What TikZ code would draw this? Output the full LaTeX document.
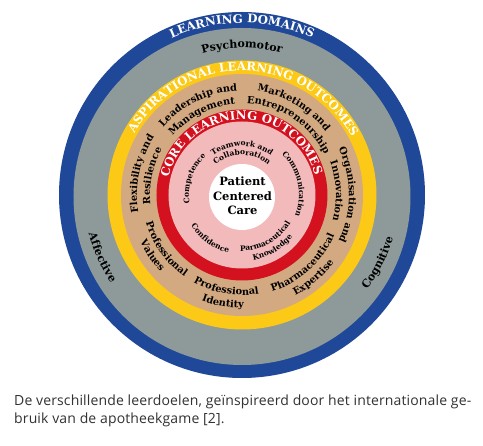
\documentclass[tikz,border=0pt]{standalone}
\usepackage{fontspec}
\setmainfont{Open Sans}
\newfontfamily\wheelfont{DejaVu Serif}
\usetikzlibrary{decorations.text}
\definecolor{domainblue}{RGB}{31,72,152}
\definecolor{domaingrey}{RGB}{142,154,153}
\definecolor{aspyellow}{RGB}{252,201,22}
\definecolor{asptan}{RGB}{211,169,129}
\definecolor{corered}{RGB}{212,17,30}
\definecolor{corepink}{RGB}{242,186,186}
\definecolor{captiongrey}{RGB}{50,50,50}
\newcommand\capsfont{\wheelfont\bfseries\fontsize{11.8}{11.8}\selectfont}
\newcommand\domainfont{\wheelfont\bfseries\fontsize{11}{11}\selectfont}
\newcommand\tanfont{\wheelfont\bfseries\fontsize{9.8}{9.8}\selectfont}
\newcommand\pinkfont{\wheelfont\bfseries\fontsize{7.5}{7.5}\selectfont}

\begin{document}
\begin{tikzpicture}[x=1pt,y=1pt,ringlbl/.style={decorate,decoration={text along path,text align=center,text={#1}}},whitelbl/.style={decorate,decoration={text along path,text align=center,text color=white,text={#1}}}]
\useasboundingbox[fill=white] (-242,-251) rectangle (241,195);
\fill[domainblue] (0,0) circle[radius=183];
\fill[domaingrey] (0,-1.5) circle[radius=168.5];
\fill[aspyellow] (0,0) circle[radius=134.5];
\fill[asptan] (0,0) circle[radius=121];
\fill[corered] (0,0) circle[radius=85.5];
\fill[corepink] (0,0) circle[radius=73.5];
\fill[white] (0,-2) circle[radius=33];
% learning domains
\path[whitelbl={|\capsfont|LEARNING DOMAINS}] (165:172) arc[start angle=165,end angle=15,radius=172];
\path[ringlbl={|\domainfont|Psychomotor}] (160:147) arc[start angle=160,end angle=20,radius=147];
\path[ringlbl={|\domainfont|Affective}] (160:158) arc[start angle=160,end angle=248,radius=158];
\path[ringlbl={|\domainfont|Cognitive}] (289.5:157) arc[start angle=289.5,end angle=377.5,radius=157];
% aspirational outcomes
\path[whitelbl={|\capsfont|ASPIRATIONAL LEARNING OUTCOMES}] (174:124) arc[start angle=174,end angle=4,radius=124];
\path[ringlbl={|\tanfont|Leadership and}] (176:104) arc[start angle=176,end angle=56,radius=104];
\path[ringlbl={|\tanfont|Management}] (177:91) arc[start angle=177,end angle=57,radius=91];
\path[ringlbl={|\tanfont|Marketing and}] (119.4:105) arc[start angle=119.4,end angle=-0.6,radius=105];
\path[ringlbl={|\tanfont|Entrepreneurship}] (116.6:92) arc[start angle=116.6,end angle=-3.4,radius=92];
\path[ringlbl={|\tanfont|Organisation and}] (60:107) arc[start angle=60,end angle=-60,radius=107];
\path[ringlbl={|\tanfont|Innovation}] (62.5:94) arc[start angle=62.5,end angle=-57.5,radius=94];
\path[ringlbl={|\tanfont|Flexibility and}] (228:105) arc[start angle=228,end angle=108,radius=105];
\path[ringlbl={|\tanfont|Resilience}] (228:92) arc[start angle=228,end angle=108,radius=92];
\path[ringlbl={|\tanfont|Professional}] (165.5:100) arc[start angle=165.5,end angle=265.5,radius=100];
\path[ringlbl={|\tanfont|Values}] (164:112) arc[start angle=164,end angle=264,radius=112];
\path[ringlbl={|\tanfont|Professional}] (210.4:100) arc[start angle=210.4,end angle=310.4,radius=100];
\path[ringlbl={|\tanfont|Identity}] (210:113) arc[start angle=210,end angle=310,radius=113];
\path[ringlbl={|\tanfont|Pharmaceutical}] (261.8:101) arc[start angle=261.8,end angle=361.8,radius=101];
\path[ringlbl={|\tanfont|Expertise}] (260.8:114) arc[start angle=260.8,end angle=360.8,radius=114];
% core outcomes
\path[whitelbl={|\capsfont|CORE LEARNING OUTCOMES}] (179:75.5) arc[start angle=179,end angle=3,radius=75.5];
\path[ringlbl={|\pinkfont|Teamwork and}] (150:49) arc[start angle=150,end angle=30,radius=49];
\path[ringlbl={|\pinkfont|Collaboration}] (160:40) arc[start angle=160,end angle=20,radius=40];
\path[ringlbl={|\pinkfont|Competence}] (221:53) arc[start angle=221,end angle=101,radius=53];
\path[ringlbl={|\pinkfont|Communication}] (72:57) arc[start angle=72,end angle=-48,radius=57];
\path[ringlbl={|\pinkfont|Confidence}] (184:59.5) arc[start angle=184,end angle=284,radius=59.5];
\path[ringlbl={|\pinkfont|Parmaceutical}] (249:56) arc[start angle=249,end angle=349,radius=56];
\path[ringlbl={|\pinkfont|Knowledge}] (250:66) arc[start angle=250,end angle=350,radius=66];
\node[align=center,font=\wheelfont\bfseries\fontsize{11.5}{14.5}\selectfont] (pcc) at (0.5,-1) {Patient\\Centered\\Care};
\node[anchor=base west,align=left,inner sep=0,text=captiongrey,font=\fontsize{14}{18.5}\selectfont\addfontfeature{LetterSpace=1}] (caption) at (-228,-229) {De verschillende leerdoelen, geïnspireerd door het internationale ge-\\bruik van de apotheekgame [2].};
\end{tikzpicture}
\end{document}
